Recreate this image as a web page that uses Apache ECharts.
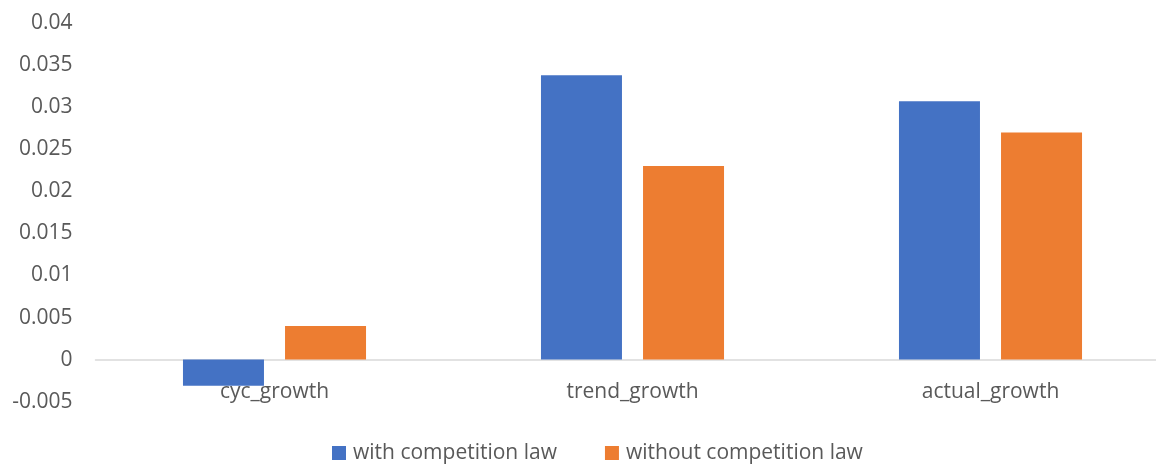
<!DOCTYPE html>
<html>
<head>
<meta charset="utf-8">
<script src="https://cdn.jsdelivr.net/npm/echarts@6/dist/echarts.min.js"></script>
<style>html,body{margin:0;padding:0;background:#fff;}#c{width:1156px;height:465px;}</style>
</head>
<body>
<div id="c"></div>
<script>
const categories = ['cyc_growth', 'trend_growth', 'actual_growth'];
const withLaw = [-0.0031, 0.0338, 0.0307];
const withoutLaw = [0.004, 0.023, 0.027];
const seriesNames = ['with competition law', 'without competition law'];

const chart = echarts.init(document.getElementById('c'));
const font = 'Open Sans';
chart.setOption({
  animation: false,
  backgroundColor: '#fff',
  grid: { left: 95.5, top: 23, width: 1074, bottom: 63.3, containLabel: false, outerBoundsMode: 'none' },
  legend: {
    data: seriesNames,
    top: 436,
    left: 327,
    itemWidth: 14, itemHeight: 14, itemGap: 48,
    icon: 'rect',
    textStyle: { color: '#595959', fontSize: 21, lineHeight: 24, fontFamily: font, padding: [0,0,0,2] }
  },
  xAxis: {
    type: 'category',
    data: categories,
    axisLine: { show: true, onZero: true, lineStyle: { color: '#D9D9D9', width: 1.5 } },
    axisTick: { show: false },
    axisLabel: { color: '#595959', fontSize: 21, fontFamily: font, margin: -20 }
  },
  yAxis: {
    type: 'value',
    min: -0.005, max: 0.04, interval: 0.005,
    splitLine: { show: false },
    axisLine: { show: false },
    axisTick: { show: false },
    axisLabel: {
      color: '#595959', fontSize: 21, fontFamily: font, margin: 23,
      formatter: v => String(parseFloat(v.toFixed(4)))
    }
  },
  series: [
    { name: seriesNames[0], type: 'bar', data: withLaw, itemStyle: { color: '#4472C4' }, barWidth: 81, barGap: '26%' },
    { name: seriesNames[1], type: 'bar', data: withoutLaw, itemStyle: { color: '#ED7D31' }, barWidth: 81, barGap: '26%' }
  ]
});
</script>
</body>
</html>
